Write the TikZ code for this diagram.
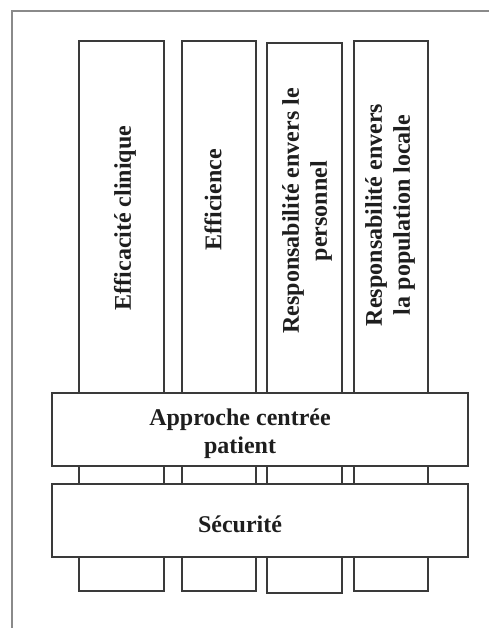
\documentclass[tikz,border=0pt]{standalone}
\usepackage{fontspec}
\setmainfont{Liberation Serif}
\definecolor{boxline}{HTML}{3A3A3A}
\definecolor{frameline}{HTML}{8A8A8A}
\definecolor{txt}{HTML}{1E1E1E}
\begin{document}
\begin{tikzpicture}[x=1pt,y=-1pt,
  pillar/.style={draw=boxline,line width=1.3pt,fill=white,inner sep=0pt},
  band/.style={draw=boxline,line width=1.3pt,fill=white,inner sep=0pt,minimum width=416pt,minimum height=73pt},
  lbl/.style={text=txt,font=\fontsize{24}{28}\selectfont\bfseries,align=center,inner sep=0pt},
  vlbl/.style={lbl,rotate=90}]
\useasboundingbox (0,0) rectangle (489,628);
\fill[white] (0,0) rectangle (489,628);
% outer frame (clipped at right and bottom)
\coordinate (fb) at (12,628);
\coordinate (ftl) at (12,11);
\coordinate (fr) at (489,11);
\draw[frameline,line width=1.5pt] (fb) -- (ftl) -- (fr);
% pillars
\node[pillar,minimum width=85pt,minimum height=550pt] (c1) at (121.5,316) {};
\node[pillar,minimum width=74pt,minimum height=550pt] (c2) at (219,316) {};
\node[pillar,minimum width=75pt,minimum height=550pt] (c3) at (304.5,318) {};
\node[pillar,minimum width=74pt,minimum height=550pt] (c4) at (391,316) {};
% pillar labels
\node[vlbl] (t1) at (125,218) {Efficacité clinique};
\node[vlbl] (t2) at (213,200) {Efficience};
\node[vlbl] (t3) at (307,211) {Responsabilité envers le\\personnel};
\node[vlbl] (t4) at (390,215) {Responsabilité envers\\la population locale};
% bands
\node[band] (b1) at (260,429.5) {};
\node[band] (b2) at (260,520.5) {};
\node[lbl] (tb1) at (240,434) {Approche centrée\\patient};
\node[lbl] (tb2) at (240,524) {Sécurité};
\end{tikzpicture}
\end{document}
